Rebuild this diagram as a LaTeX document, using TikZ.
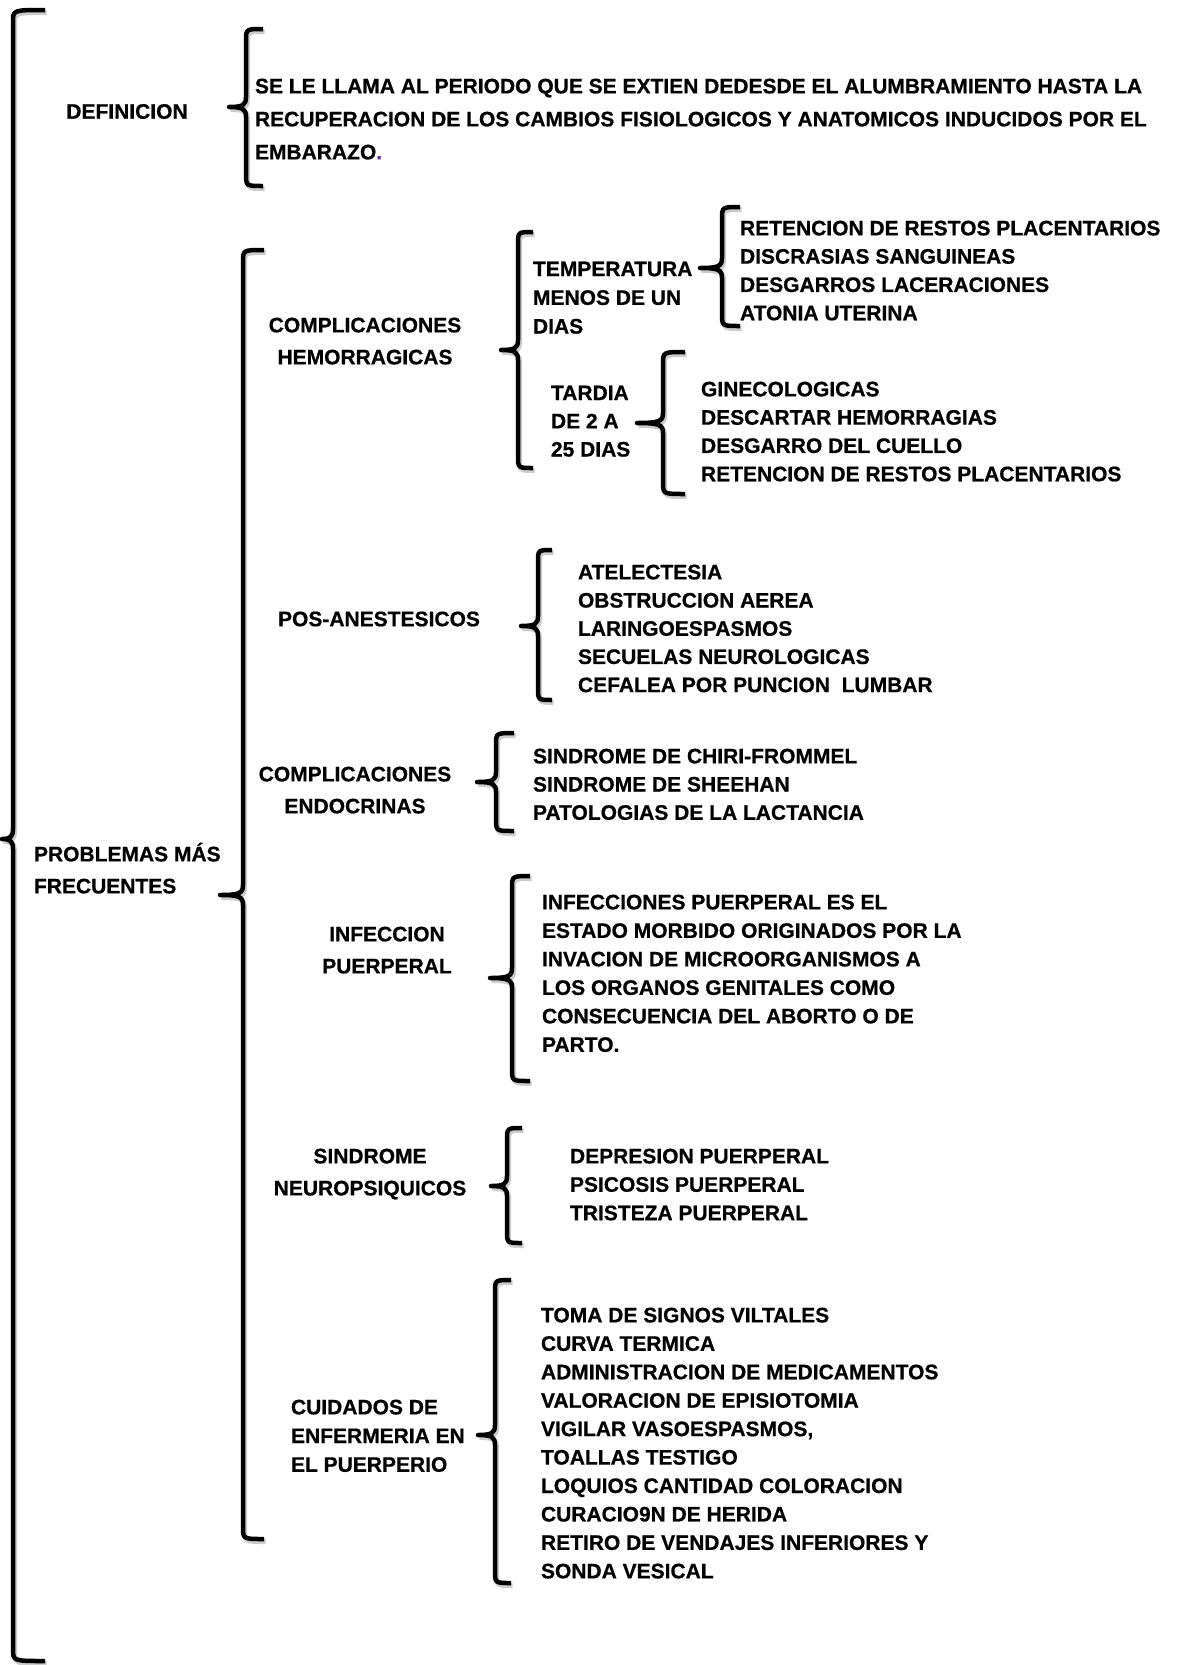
\documentclass[tikz,border=0pt]{standalone}
\usepackage{fontspec}
\setmainfont{Liberation Sans}[BoldFeatures={FakeBold=0.7}]
\newcommand{\mybrace}[6]{%
  \draw[brc] (#6,#2) .. controls (#1,#2) .. (#1,#2+12) -- (#1,#4-10)
    .. controls (#1,#4-2) and (#1-3,#4) .. (#5,#4)
    .. controls (#1-3,#4) and (#1,#4+2) .. (#1,#4+10) -- (#1,#3-12)
    .. controls (#1,#3) .. (#6,#3);}
\begin{document}
\begin{tikzpicture}[x=1pt,y=-1pt,
  every node/.style={inner sep=0pt, outer sep=0pt, font=\bfseries\fontsize{21}{28.4}\selectfont},
  lbl/.style={align=center, anchor=north, font=\bfseries\fontsize{21}{32}\selectfont},
  lst/.style={align=left, anchor=north west},
  brc/.style={line width=4.5pt, line join=round,
    preaction={draw=black!20, line width=5pt, transform canvas={shift={(1.5pt,-2.5pt)}}}}
]
\useasboundingbox (0,0) rectangle (1180,1665);

% braces: xv, top, bottom, tipy, tipx, hookx
\mybrace{13}{10}{1661}{839}{2}{45}
\mybrace{246}{29}{186}{107}{229}{263}
\mybrace{243}{250}{1539}{895}{220}{264}
\mybrace{518}{232}{468}{350}{501}{533}
\mybrace{722}{207}{326}{268}{700}{740}
\mybrace{663}{352}{494}{423}{637}{685}
\mybrace{538}{550}{700}{626}{521}{552}
\mybrace{496}{733}{831}{782}{477}{514}
\mybrace{512}{876}{1081}{978}{490}{530}
\mybrace{507}{1128}{1243}{1186}{491}{522}
\mybrace{495}{1280}{1583}{1435}{478}{511}

\node (def) at (127,111.5) {DEFINICION};
\node[lst, font=\bfseries\fontsize{21}{33}\selectfont] (deftxt) at (255,78.7)
  {SE LE LLAMA AL PERIODO QUE SE EXTIEN DEDESDE EL ALUMBRAMIENTO HASTA LA\\RECUPERACION DE LOS CAMBIOS FISIOLOGICOS Y ANATOMICOS INDUCIDOS POR EL\\EMBARAZO{\color[HTML]{7030A0}.}};

\node[lst, font=\bfseries\fontsize{21}{32}\selectfont] (prob) at (34,846.7)
  {PROBLEMAS M\smash{Á}S\\FRECUENTES};

\node[lbl] (hemo) at (365,317.7) {COMPLICACIONES\\HEMORRAGICAS};
\node[lst, font=\bfseries\fontsize{21}{28.7}\selectfont] (temp) at (533,261.7)
  {TEMPERATURA\\MENOS DE UN\\DIAS};
\node[lst, font=\bfseries\fontsize{21}{28.3}\selectfont] (templ) at (740,220.7)
  {RETENCION DE RESTOS PLACENTARIOS\\DISCRASIAS SANGUINEAS\\DESGARROS LACERACIONES\\ATONIA UTERINA};
\node[lst, font=\bfseries\fontsize{21}{28.2}\selectfont] (tard) at (551,385.7)
  {TARDIA\\DE 2 A\\25 DIAS};
\node[lst, font=\bfseries\fontsize{21}{28.3}\selectfont] (tardl) at (701,381.7)
  {GINECOLOGICAS\\DESCARTAR HEMORRAGIAS\\DESGARRO DEL CUELLO\\RETENCION DE RESTOS PLACENTARIOS};

\node (pos) at (379,619) {POS-ANESTESICOS};
\node[lst, font=\bfseries\fontsize{21}{28.2}\selectfont] (posl) at (578,564.7)
  {ATELECTESIA\\OBSTRUCCION AEREA\\LARINGOESPASMOS\\SECUELAS NEUROLOGICAS\\CEFALEA POR PUNCION~ LUMBAR};

\node[lbl] (endo) at (355,766.7) {COMPLICACIONES\\ENDOCRINAS};
\node[lst, font=\bfseries\fontsize{21}{28.2}\selectfont] (endol) at (533,748.7)
  {SINDROME DE CHIRI-FROMMEL\\SINDROME DE SHEEHAN\\PATOLOGIAS DE LA LACTANCIA};

\node[lbl] (inf) at (387,926.7) {INFECCION\\PUERPERAL};
\node[lst, font=\bfseries\fontsize{21}{28.5}\selectfont] (infl) at (542,894.7)
  {INFECCIONES PUERPERAL ES EL\\ESTADO MORBIDO ORIGINADOS POR LA\\INVACION DE MICROORGANISMOS A\\LOS ORGANOS GENITALES COMO\\CONSECUENCIA DEL ABORTO O DE\\PARTO.};

\node[lbl] (neuro) at (370,1148.7) {SINDROME\\NEUROPSIQUICOS};
\node[lst, font=\bfseries\fontsize{21}{28.4}\selectfont] (neurol) at (570,1148.7)
  {DEPRESION PUERPERAL\\PSICOSIS PUERPERAL\\TRISTEZA PUERPERAL};

\node[lst, font=\bfseries\fontsize{21}{28.7}\selectfont] (cuid) at (291,1399.7)
  {CUIDADOS DE\\ENFERMERIA EN\\EL PUERPERIO};
\node[lst, font=\bfseries\fontsize{21}{28.44}\selectfont] (cuidl) at (541,1307.7)
  {TOMA DE SIGNOS VILTALES\\CURVA TERMICA\\ADMINISTRACION DE MEDICAMENTOS\\VALORACION DE EPISIOTOMIA\\VIGILAR VASOESPASMOS,\\TOALLAS TESTIGO\\LOQUIOS CANTIDAD COLORACION\\CURACIO9N DE HERIDA\\RETIRO DE VENDAJES INFERIORES Y\\SONDA VESICAL};
\end{tikzpicture}
\end{document}
